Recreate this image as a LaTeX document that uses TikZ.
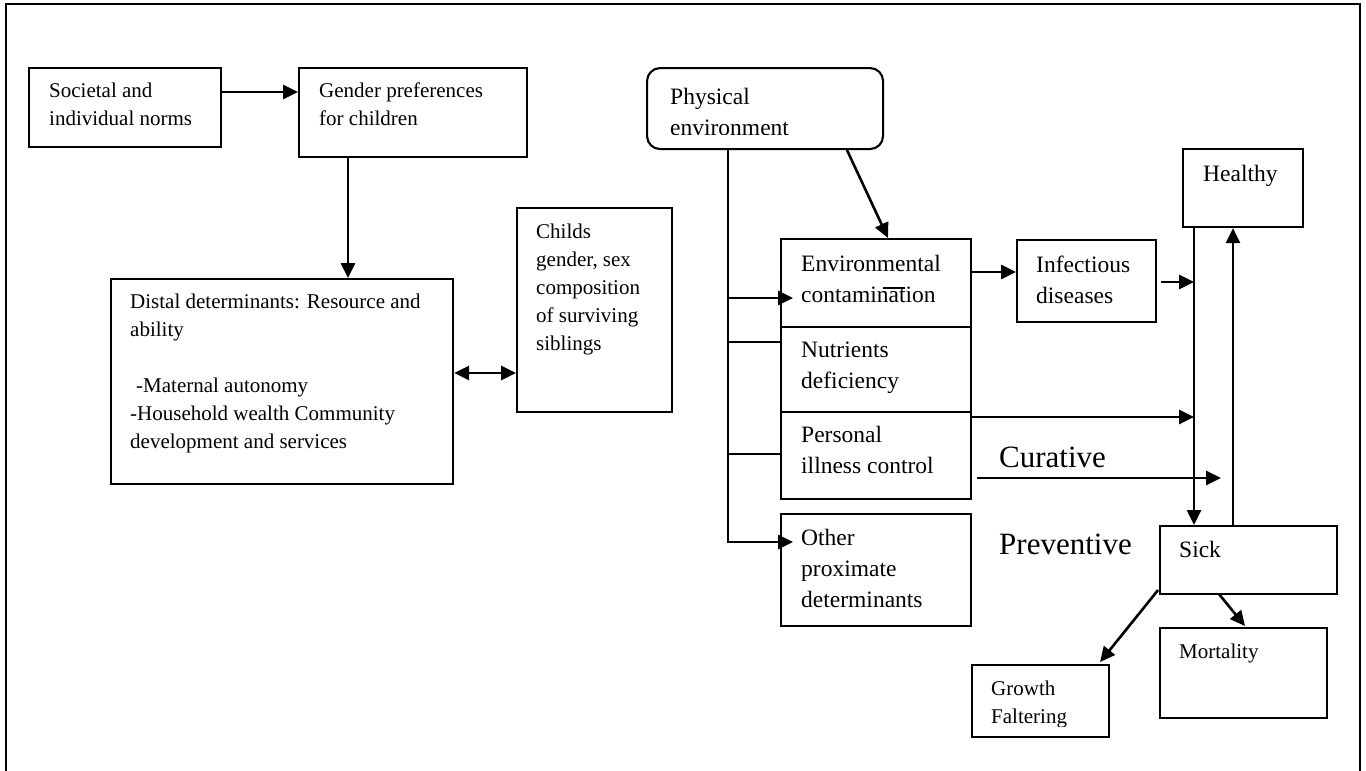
\documentclass[tikz,border=0pt]{standalone}
\usepackage{fontspec}
\setmainfont{Liberation Serif}
\usetikzlibrary{arrows.meta,calc}
\newcommand\mlines[1]{\begin{tabular}[t]{@{}l@{}}#1\end{tabular}}
\begin{document}
\begin{tikzpicture}[x=1pt,y=-1pt,
  box/.style={draw,line width=2.1pt,rectangle,inner sep=0pt,anchor=north west},
  txt/.style={inner sep=0pt,anchor=base west},
  fa/.style={font=\fontsize{21}{28}\selectfont},
  fb/.style={font=\fontsize{23.5}{31}\selectfont},
  fc/.style={font=\fontsize{31}{36}\selectfont},
  conn/.style={line width=2.6pt},
  tip/.tip={Triangle[length=15pt,width=14pt]},
  arr/.style={conn,-tip},
  darr/.style={conn,tip-tip}]
\useasboundingbox (0,0) rectangle (1366,771);
% frame
\draw[line width=2.2pt] (6,771) -- (6,4) -- (1360,4) -- (1360,771);

% boxes
\node[box,minimum width=192pt,minimum height=79pt] (soc) at (28,67) {};
\node[box,minimum width=228pt,minimum height=89pt] (gen) at (298,67) {};
\node[box,minimum width=342pt,minimum height=205pt] (dist) at (110,278) {};
\node[box,minimum width=155pt,minimum height=204pt] (child) at (516,207) {};
\node[box,rounded corners=13pt,minimum width=236pt,minimum height=81pt] (phys) at (646,67) {};
\node[box,minimum width=190pt,minimum height=88pt] (env) at (780,238) {};
\node[box,minimum width=190pt,minimum height=85pt] (nut) at (780,326) {};
\node[box,minimum width=190pt,minimum height=87pt] (pers) at (780,411) {};
\node[box,minimum width=190pt,minimum height=112pt] (other) at (780,513) {};
\node[box,minimum width=139pt,minimum height=82pt] (inf) at (1016,239) {};
\node[box,minimum width=120pt,minimum height=78pt] (healthy) at (1182,148) {};
\node[box,minimum width=177pt,minimum height=68pt] (sick) at (1159,525) {};
\node[box,minimum width=167pt,minimum height=90pt] (mort) at (1159,627) {};
\node[box,minimum width=137pt,minimum height=72pt] (growth) at (971,664) {};

% texts
\node[txt,fa] (soct) at (49,97) {\mlines{Societal and\\individual norms}};
\node[txt,fa] (gent) at (319,97) {\mlines{Gender preferences\\for children}};
\node[txt,fa] (distt) at (130,308) {\mlines{Distal determinants: Resource and\\ability\\ \\\hspace*{6pt}-Maternal autonomy\\-Household wealth Community\\development and services}};
\node[txt,fa] (childt) at (536,238) {\mlines{Childs\\gender, sex\\composition\\of surviving\\siblings}};
\begin{scope}
\clip (646,67) rectangle (882,134);
\node[txt,fb] (physt) at (670,104) {\mlines{Physical\\environment}};
\end{scope}
\node[txt,fb] (envt) at (801,271) {\mlines{Environmental\\contamination}};
\draw[line width=1.5pt] (883,288) -- (905,288);
\node[txt,fb] (nutt) at (801,357) {\mlines{Nutrients\\deficiency}};
\node[txt,fb] (perst) at (801,442) {\mlines{Personal\\illness control}};
\node[txt,fb] (othert) at (801,545) {\mlines{Other\\proximate\\determinants}};
\node[txt,fb] (inft) at (1036,272) {\mlines{Infectious\\diseases}};
\node[txt,fb] (healthyt) at (1203,181) {Healthy};
\node[txt,fb] (sickt) at (1179,557) {Sick};
\node[txt,fa] (mortt) at (1179,658) {Mortality};
\begin{scope}
\clip (971,664) rectangle (1108,726);
\node[txt,fa] (growtht) at (991,695) {\mlines{Growth\\Faltering}};
\end{scope}
\node[txt,fc] (cur) at (999,467) {Curative};
\node[txt,fc] (prev) at (999,554) {Preventive};

% connectors
\draw[arr] ($(soc.north east)+(0,25)$) -- ($(gen.north west)+(0,25)$);
\coordinate (g1) at ($(gen.south west)+(50,0)$);
\draw[arr] (g1) -- (g1 |- dist.north);
\coordinate (d1) at ($(dist.north east)+(0,95)$);
\draw[darr] (d1) -- (d1 -| child.west);

\coordinate (t0) at ($(phys.south west)+(82,0)$);
\coordinate (e1) at ($(env.north west)+(0,60)$);
\coordinate (n1) at ($(nut.north west)+(0,16)$);
\coordinate (p1) at ($(pers.north west)+(0,43)$);
\coordinate (o1) at ($(other.north west)+(0,29)$);
\draw[arr,shorten >=-13pt] (t0) |- (o1);
\draw[arr,shorten >=-13pt] (t0 |- e1) -- (e1);
\draw[conn] (t0 |- n1) -- (n1);
\draw[conn] (t0 |- p1) -- (p1);

\draw[arr] ($(phys.south west)+(201,0)$) -- ($(env.north west)+(108,0)$);
\coordinate (e2) at ($(env.north east)+(0,34)$);
\draw[arr] (e2) -- (e2 -| inf.west);

\coordinate (dl) at ($(healthy.south west)+(12,0)$);
\draw[arr] (dl) -- (dl |- sick.north);
\coordinate (ul) at ($(sick.north west)+(74,0)$);
\draw[arr] (ul) -- (ul |- healthy.south);

\coordinate (i1) at ($(inf.north east)+(4,43)$);
\draw[arr] (i1) -- (i1 -| dl);
\coordinate (q1) at ($(pers.north east)+(0,6)$);
\draw[arr] (q1) -- (q1 -| dl);
\coordinate (c1) at ($(pers.north east)+(5,67)$);
\coordinate (c2) at ($(sick.north west)+(62,0)$);
\draw[arr] (c1) -- (c1 -| c2);

\draw[arr] ($(sick.south west)+(-1,-5)$) -- ($(growth.north east)+(-10,-2)$);
\draw[arr] ($(sick.south west)+(60,-1)$) -- ($(mort.north west)+(86,-1)$);
\end{tikzpicture}
\end{document}
